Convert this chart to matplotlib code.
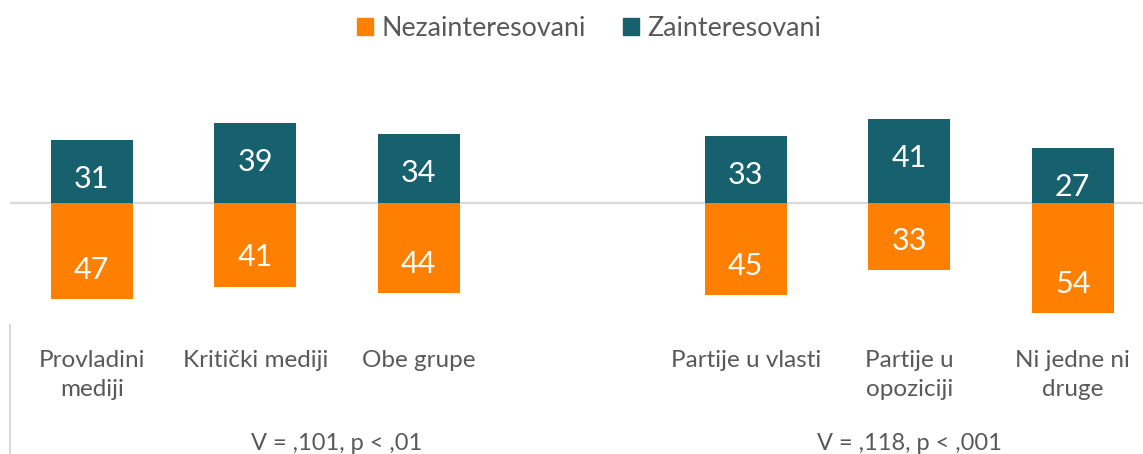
import matplotlib.pyplot as plt
from matplotlib.patches import Patch
from matplotlib.lines import Line2D

plt.rcParams['font.family'] = ['Lato', 'DejaVu Sans']

# data
categories = ['Provladini\nmediji', 'Kritički mediji', 'Obe grupe',
              'Partije u vlasti', 'Partije u\nopoziciji', 'Ni jedne ni\ndruge']
slots = [0, 1, 2, 4, 5, 6]
nezainteresovani = [47, 41, 44, 45, 33, 54]
zainteresovani = [31, 39, 34, 33, 41, 27]
groups = ['V = ,101, p < ,01', 'V = ,118, p < ,001']
group_centers = [1.5, 5]

orange = '#FF7F00'
teal = '#17606E'
gray_txt = '#595959'
W, H = 1143, 454

fig = plt.figure(figsize=(W / 100, H / 100), dpi=100)
ax = fig.add_axes([10 / W, (H - 320) / H, 1144.5 / W, 210 / H])

neg = [-v for v in nezainteresovani]
ax.bar(slots, neg, width=0.5, color=orange, zorder=2)
ax.bar(slots, zainteresovani, width=0.5, color=teal, zorder=2)
ax.axhline(0, color='#D9D9D9', lw=1.6, zorder=1)

for x, v in zip(slots, zainteresovani):
    ax.annotate(str(v), (x, v), xytext=(0, -28), textcoords='offset points',
                ha='center', va='center', color='white', fontsize=22)
for x, v in zip(slots, nezainteresovani):
    ax.annotate(str(v), (x, -v), xytext=(0, 21), textcoords='offset points',
                ha='center', va='center', color='white', fontsize=22)

ax.set_xlim(-0.5, 6.5)
ax.set_ylim(-57.35, 45.6)
ax.axis('off')

# category labels below the plot
for x, c in zip(slots, categories):
    fig.text((10 + (x + 0.5) * 163.5) / W, 1 - 350 / H, c, ha='center', va='top',
             color=gray_txt, fontsize=17.5, linespacing=1.45)

for gx, g in zip(group_centers, groups):
    fig.text((10 + (gx + 0.5) * 163.5) / W, 1 - 443 / H, g, ha='center', va='center',
             color=gray_txt, fontsize=17)

fig.add_artist(Line2D([10 / W, 10 / W], [0, 1 - 325 / H], color='#D9D9D9', lw=1.5))

handles = [Patch(color=orange), Patch(color=teal)]
fig.legend(handles, ['Nezainteresovani', 'Zainteresovani'], loc='center',
           bbox_to_anchor=(589 / W, 1 - 28 / H), ncol=2, frameon=False, fontsize=19.3,
           labelcolor=gray_txt, handlelength=0.6, handleheight=0.6,
           handletextpad=0.3, columnspacing=1.4)

fig.savefig('out.png', dpi=100)
